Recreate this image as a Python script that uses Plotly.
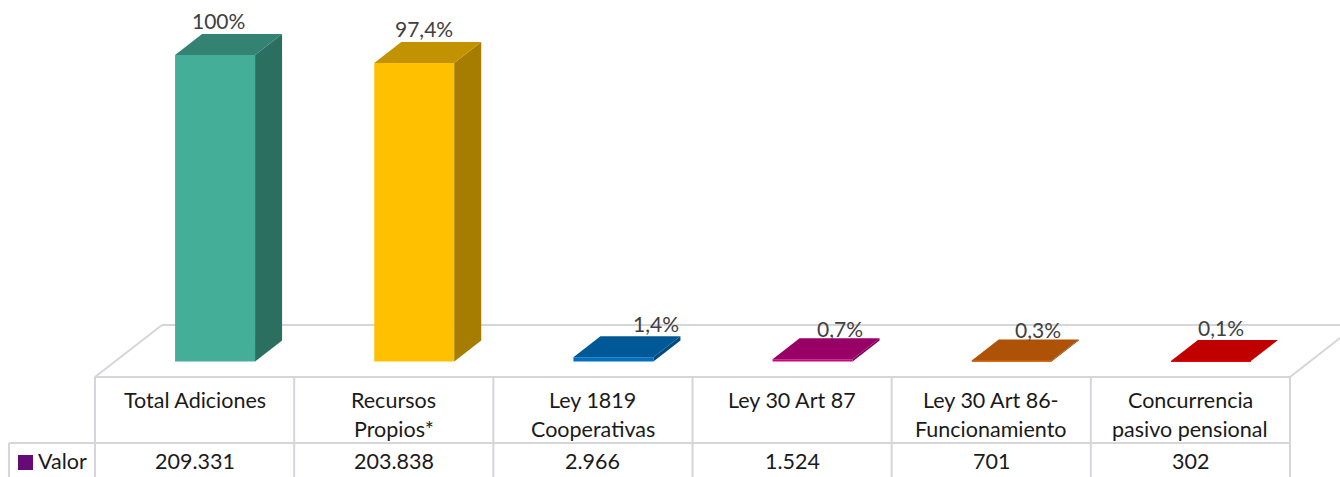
import plotly.graph_objects as go

categories = ["Total Adiciones", "Recursos\nPropios*", "Ley 1819\nCooperativas",
              "Ley 30 Art 87", "Ley 30 Art 86-\nFuncionamiento", "Concurrencia\npasivo pensional"]
values = [209331, 203838, 2966, 1524, 701, 302]
pct_labels = ["100%", "97,4%", "1,4%", "0,7%", "0,3%", "0,1%"]
series_name = "Valor"

front_colors = ["#44AE98", "#FFC000", "#0070C0", "#C8087F", "#DC6C14", "#F00000"]
top_colors = ["#338272", "#C29200", "#005896", "#990066", "#AD5207", "#C00000"]
side_colors = ["#2A6F5F", "#A67D00", "#004A80", "#80005A", "#8F4406", "#A00000"]
label_dx = [3, 10, 43, 27, 26, 10]
label_gap = [14, 14, 13, 10, 10, 13]

W, H = 1340, 477
LEFT, RIGHT = 95, 1290
CAT = (RIGHT - LEFT) / 6
BASE_PX = 361.5
K = values[0] / 306.5
BAR_PX, OFF_PX, DX_PX, DY_PX = 80, 20.5, 27, 21
GRID = "#D5D5DC"
TEXT = "#1A1A1A"
LABEL = "#404040"
FONT = "Lato, Carlito, sans-serif"
TABLE_SIZE = 21.5
LABEL_SIZE = 21


def px_x(p):
    return (p - LEFT) / CAT - 0.5


def py(p):
    return 1 - p / H


bw = BAR_PX / CAT
off = OFF_PX / CAT
dx = DX_PX / CAT
dy = DY_PX * K

fig = go.Figure()
idx = list(range(len(values)))
fig.add_trace(go.Bar(x=[i + off for i in idx], y=values, width=bw,
                     marker=dict(color=front_colors, line=dict(width=0)),
                     hoverinfo="skip", showlegend=False))

for i, v in enumerate(values):
    l = i + off - bw / 2
    r = i + off + bw / 2
    fig.add_trace(go.Scatter(x=[r, r + dx, r + dx, r, r], y=[0, dy, v + dy, v, 0],
                             fill="toself", fillcolor=side_colors[i], mode="lines",
                             line=dict(width=0), hoverinfo="skip", showlegend=False))
    fig.add_trace(go.Scatter(x=[l, r, r + dx, l + dx, l], y=[v, v, v + dy, v + dy, v],
                             fill="toself", fillcolor=top_colors[i], mode="lines",
                             line=dict(width=0), hoverinfo="skip", showlegend=False))

shapes = []


def seg(x0, y0, x1, y1):
    shapes.append(dict(type="line", xref="x", yref="paper", layer="below",
                       x0=px_x(x0), x1=px_x(x1), y0=py(y0), y1=py(y1),
                       line=dict(color=GRID, width=2)))


seg(LEFT, 377, RIGHT, 377)
seg(LEFT, 377, 162, 325)
seg(162, 325, W, 325)
seg(RIGHT, 377, W, 338)
seg(9, 443, RIGHT, 443)
seg(9, 443, 9, H)
for k in range(7):
    seg(LEFT + k * CAT, 377, LEFT + k * CAT, H)

shapes.append(dict(type="rect", xref="x", yref="paper", x0=px_x(18), x1=px_x(33),
                   y0=py(470), y1=py(455), fillcolor="#660A78", line=dict(width=0)))

ann = []
for i, name in enumerate(categories):
    for j, line in enumerate(name.split("\n")):
        ann.append(dict(x=i, y=py(399.8 + j * 29), xref="x", yref="paper", text=line, showarrow=False,
                        xanchor="center", yanchor="middle", font=dict(family=FONT, size=TABLE_SIZE, color=TEXT)))
    ann.append(dict(x=i, y=py(461), xref="x", yref="paper", text=f"{values[i]:,}".replace(",", "."),
                    showarrow=False, xanchor="center", yanchor="middle",
                    font=dict(family=FONT, size=TABLE_SIZE, color=TEXT)))
    ann.append(dict(x=i + off, y=values[i] + dy, xref="x", yref="y", text=pct_labels[i], showarrow=False,
                    xanchor="center", yanchor="middle", xshift=label_dx[i], yshift=label_gap[i],
                    font=dict(family=FONT, size=LABEL_SIZE, color=LABEL)))
ann.append(dict(x=px_x(36), y=py(461), xref="x", yref="paper", text=series_name, showarrow=False,
                xanchor="left", yanchor="middle", font=dict(family=FONT, size=TABLE_SIZE, color=TEXT)))

fig.update_layout(
    width=W, height=H, autosize=False,
    margin=dict(l=0, r=0, t=0, b=0),
    paper_bgcolor="white", plot_bgcolor="rgba(0,0,0,0)",
    showlegend=False, shapes=shapes, annotations=ann, hovermode=False,
    xaxis=dict(range=[px_x(0), px_x(W)], visible=False, fixedrange=True),
    yaxis=dict(range=[(BASE_PX - H) * K, BASE_PX * K], visible=False, fixedrange=True),
)
fig.write_html("out.html", config={"displayModeBar": False},
               post_script="document.body.style.margin='0';document.documentElement.style.overflow='hidden';")
